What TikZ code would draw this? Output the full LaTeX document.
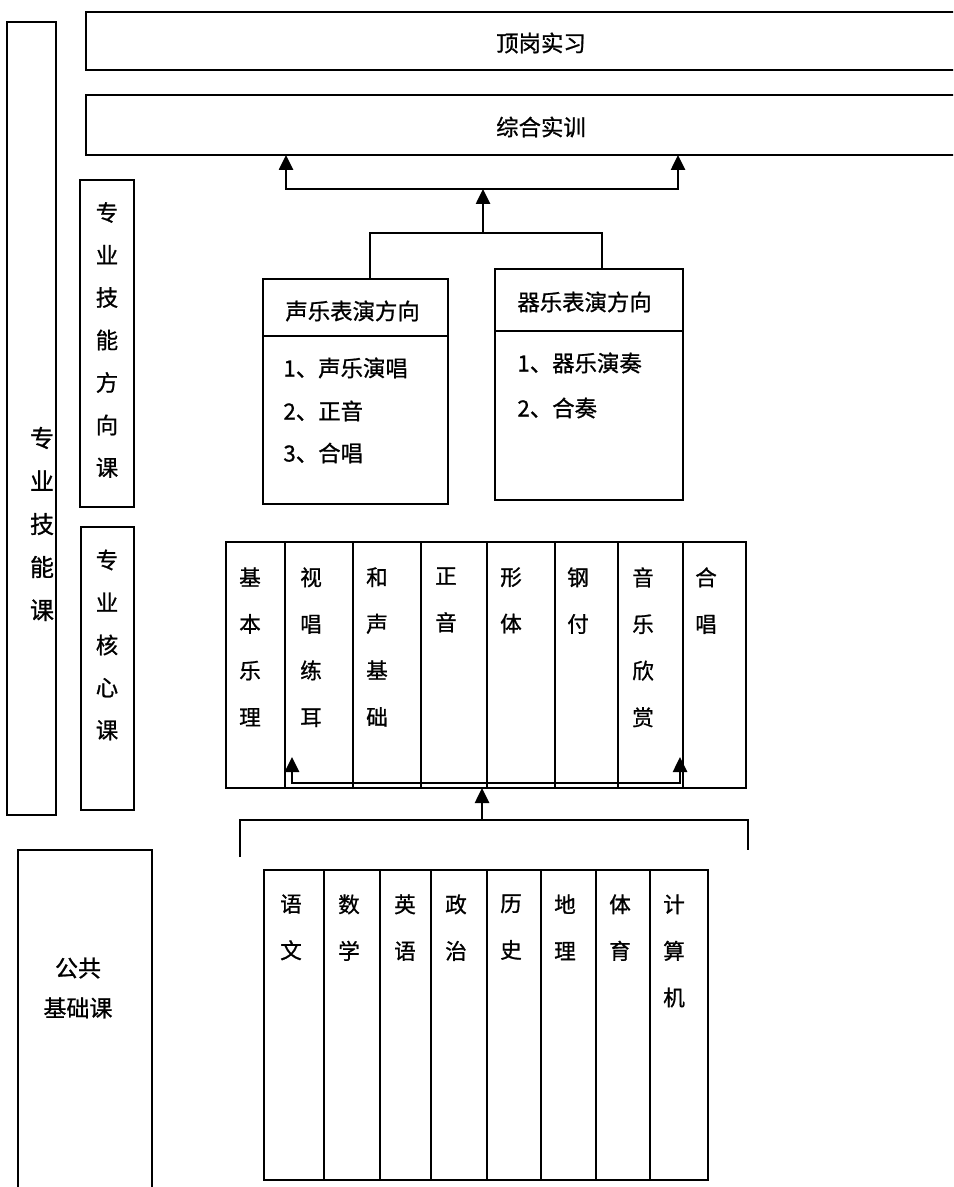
\documentclass[tikz,border=0pt]{standalone}
\usepackage{fontspec}
\newfontfamily\cjk[FakeBold=0.9]{Noto Sans CJK SC}
\usetikzlibrary{arrows.meta}
\begin{document}
\begin{tikzpicture}[x=0.5pt,y=-0.5pt,
  box/.style={draw, line width=1.3pt, inner sep=0pt, outer sep=0pt, anchor=north west},
  lbl/.style={font=\cjk\fontsize{11.2}{13}\selectfont, inner sep=0pt},
  vlbl/.style={font=\cjk\fontsize{11.2}{21.25}\selectfont, align=center, inner sep=0pt},
  tlbl/.style={font=\cjk\fontsize{10.8}{23.3}\selectfont, align=center, inner sep=0pt, anchor=north},
  conn/.style={line width=1.3pt},
  arr/.style={conn, -{Triangle[width=7pt,length=7.5pt]}},
]
\useasboundingbox (0,0) rectangle (953,1187);
\clip (0,0) rectangle (953,1187);
\fill[white] (0,0) rectangle (953,1187);

% left category boxes
\node[box, minimum width=49*0.5pt, minimum height=793*0.5pt] (skill) at (7,22) {};
\node[vlbl, font=\cjk\fontsize{12}{21.5}\selectfont] (skillT) at (42,524) {专\\业\\技\\能\\课};
\node[box, minimum width=54*0.5pt, minimum height=327*0.5pt] (dir) at (80,180) {};
\node[vlbl] (dirT) at (107,340) {专\\业\\技\\能\\方\\向\\课};
\node[box, minimum width=53*0.5pt, minimum height=283*0.5pt] (core) at (81,527) {};
\node[vlbl] (coreT) at (107,645) {专\\业\\核\\心\\课};
\node[box, minimum width=134*0.5pt, minimum height=360*0.5pt] (pub) at (18,850) {};
\node[lbl, align=center, font=\cjk\fontsize{11.5}{20}\selectfont] (pubT) at (78,988) {公共\\基础课};

% top boxes
\node[box, minimum width=900*0.5pt, minimum height=58*0.5pt] (top1) at (86,12) {};
\node[lbl] (top1T) at (541,43) {顶岗实习};
\node[box, minimum width=900*0.5pt, minimum height=60*0.5pt] (top2) at (86,95) {};
\node[lbl] (top2T) at (541,127) {综合实训};

% direction boxes
\node[box, minimum width=185*0.5pt, minimum height=57*0.5pt] (vocH) at (263,279) {};
\node[box, minimum width=185*0.5pt, minimum height=168*0.5pt] (vocB) at (263,336) {};
\node[lbl, anchor=west] (vocT) at (285,311) {声乐表演方向};
\node[lbl, anchor=west] (voc1) at (283,368) {1、声乐演唱};
\node[lbl, anchor=west] (voc2) at (283,411) {2、正音};
\node[lbl, anchor=west] (voc3) at (283,453) {3、合唱};

\node[box, minimum width=188*0.5pt, minimum height=62*0.5pt] (insH) at (495,269) {};
\node[box, minimum width=188*0.5pt, minimum height=169*0.5pt] (insB) at (495,331) {};
\node[lbl, anchor=west] (insT) at (517,302) {器乐表演方向};
\node[lbl, anchor=west] (ins1) at (517,363) {1、器乐演奏};
\node[lbl, anchor=west] (ins2) at (517,408) {2、合奏};

% core course table
\foreach \n/\a/\b in {1/226/285, 2/285/353, 3/353/421, 4/421/487, 5/487/555, 6/555/618, 7/618/683, 8/683/746}{
  \node[box, minimum width=(\b-\a)*0.5pt, minimum height=246*0.5pt] (c\n) at (\a,542) {};
}
\foreach \n/\x/\t in {1/250/{基\\本\\乐\\理}, 2/311/{视\\唱\\练\\耳}, 3/377/{和\\声\\基\\础}, 4/446/{正\\音},
                      5/511/{形\\体}, 6/578/{钢\\付}, 7/643/{音\\乐\\欣\\赏}, 8/706/{合\\唱}}{
  \node[tlbl] (ct\n) at (\x,567) {\t};
}

% public course table
\foreach \n/\a/\b in {1/264/324, 2/324/380, 3/380/431, 4/431/487, 5/487/541, 6/541/596, 7/596/650, 8/650/708}{
  \node[box, minimum width=(\b-\a)*0.5pt, minimum height=310*0.5pt] (p\n) at (\a,870) {};
}
\foreach \n/\x/\t in {1/291/{语\\文}, 2/349/{数\\学}, 3/405/{英\\语}, 4/456/{政\\治},
                      5/511/{历\\史}, 6/565/{地\\理}, 7/620/{体\\育}, 8/674/{计\\算\\机}}{
  \node[tlbl] (pt\n) at (\x,894) {\t};
}

% connectors: direction boxes -> 综合实训
\coordinate (j1) at (483,233);
\coordinate (j2) at (483,189);
\draw[conn] (vocH.north -| 370,0) |- (j1) -| (insH.north -| 602,0);
\draw[arr] (j1) -- (j2);
\draw[arr] (j2) -| (top2.south -| 286,0);
\draw[arr] (j2) -| (top2.south -| 678,0);

% connectors: public -> core
\coordinate (s1) at (240,857);
\coordinate (s2) at (748,850);
\coordinate (j3) at (482,820);
\draw[conn] (s1) |- (j3) -| (s2);
\draw[arr] (j3) -- (j3 |- c4.south);
\coordinate (j4) at (482,783);
\coordinate (a1) at (292,757);
\coordinate (a2) at (680,757);
\draw[arr] (j4) -| (a1);
\draw[arr] (j4) -| (a2);
\end{tikzpicture}
\end{document}
